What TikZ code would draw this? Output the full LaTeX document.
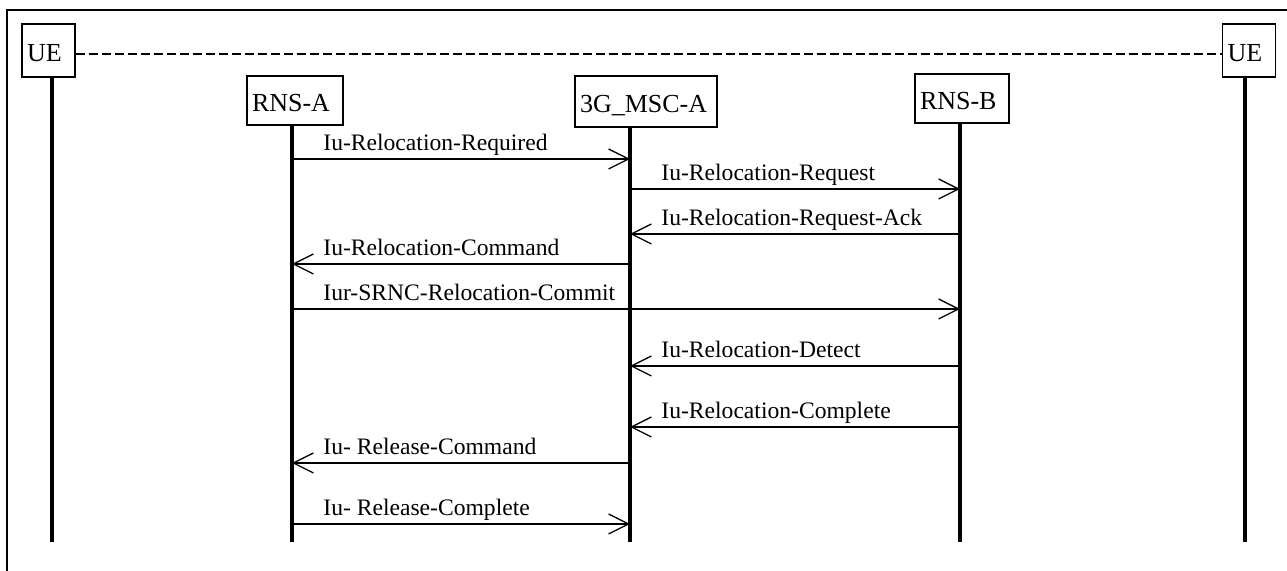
\documentclass[tikz,border=0pt]{standalone}
\usepackage{fontspec}
\setmainfont{Liberation Serif}
\usetikzlibrary{arrows.meta}

\begin{document}
\begin{tikzpicture}[
            x=0.5pt, y=-0.5pt,
            entity/.style={draw, line width=.6pt, align=left, inner xsep=2.5pt,
                inner ysep=0pt, text height=11pt, text depth=0pt,
                font=\fontsize{13}{15}\selectfont},
            life/.style={line width=2pt},
            msg/.style={line width=.65pt,
                -{Straight Barb[length=10pt,width=10pt,line width=.65pt]}},
            lbl/.style={anchor=base west, inner sep=0pt,
                font=\fontsize{11.8}{14}\selectfont}]

        \useasboundingbox (0,0) rectangle (1287,571);
        \draw[line width=.6pt] (7,571) -- (7,10) -- (1287,10);

        \node[entity, text width=21.5pt, minimum height=26.5pt] (ueA) at (48.5,50.5) {UE};
        \node[entity, text width=43pt, minimum height=24.5pt] (rnsA) at (295,100.5) {RNS-A};
        \node[entity, text width=66pt, minimum height=25.5pt] (msc) at (646,101.5) {3G\_MSC-A};
        \node[entity, text width=42pt, minimum height=24.5pt] (rnsB) at (962,98.5) {RNS-B};
        \node[entity, text width=21.5pt, minimum height=26.5pt] (ueB) at (1249,50.5) {UE};

        \draw[line width=.6pt, dash pattern=on 4.5pt off 2pt]
        (ueA.east |- 0,54) -- (ueB.west |- 0,54);

        \coordinate (ueA-l) at (ueA.south -| 52,0);
        \coordinate (rnsA-l) at (rnsA.south -| 292,0);
        \coordinate (msc-l) at (msc.south -| 630,0);
        \coordinate (rnsB-l) at (rnsB.south -| 960,0);
        \coordinate (ueB-l) at (ueB.south -| 1245,0);

        \foreach \c in {ueA-l,rnsA-l,msc-l,rnsB-l,ueB-l}
        \draw[life] (\c) -- (\c |- 0,542);

        \foreach \y/\a/\b/\l/\t in {
                159/rnsA-l/msc-l/rnsA-l/Iu-Relocation-Required,
                189/msc-l/rnsB-l/msc-l/Iu-Relocation-Request,
                234/rnsB-l/msc-l/msc-l/Iu-Relocation-Request-Ack,
                264/msc-l/rnsA-l/rnsA-l/Iu-Relocation-Command,
                309/rnsA-l/rnsB-l/rnsA-l/Iur-SRNC-Relocation-Commit,
                366/rnsB-l/msc-l/msc-l/Iu-Relocation-Detect,
                427/rnsB-l/msc-l/msc-l/Iu-Relocation-Complete,
                463/msc-l/rnsA-l/rnsA-l/Iu- Release-Command,
                524/rnsA-l/msc-l/rnsA-l/Iu- Release-Complete}{
            \draw[msg] (\a |- 0,\y) -- (\b |- 0,\y);
            \node[lbl] at ([xshift=15.5pt, yshift=4pt]\l |- 0,\y) {\t};
        }
    \end{tikzpicture}
\end{document}
